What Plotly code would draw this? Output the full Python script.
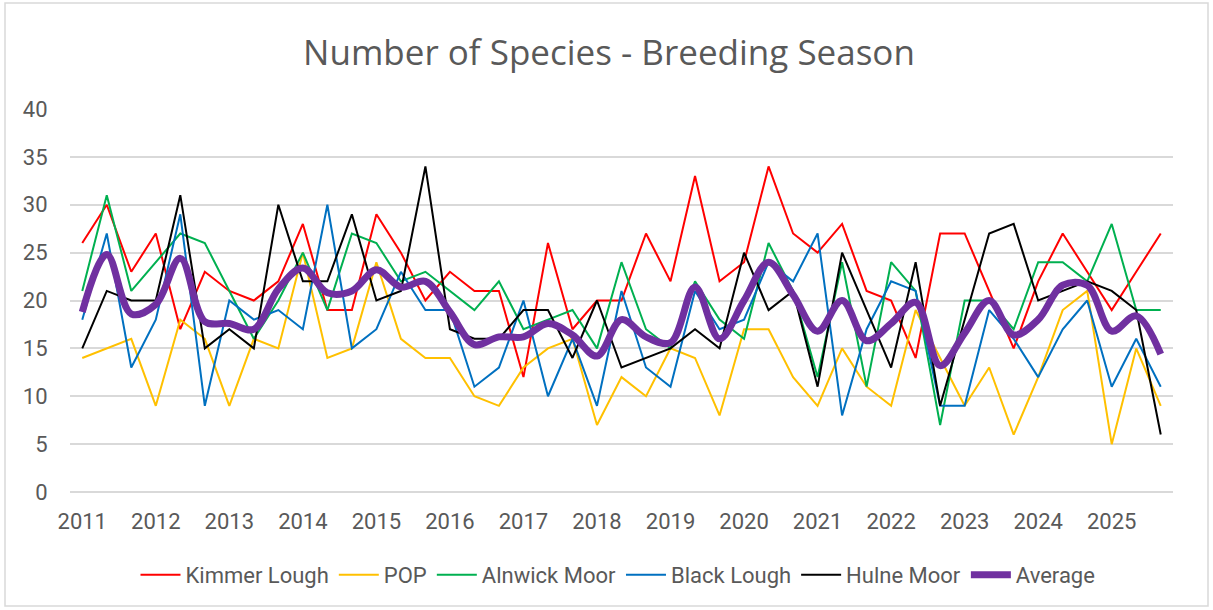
import plotly.graph_objects as go

years = ["2011", "2012", "2013", "2014", "2015", "2016", "2017", "2018",
         "2019", "2020", "2021", "2022", "2023", "2024", "2025"]
visits_per_year = 3

kimmer_lough = [26, 30, 23, 27, 17, 23, 21, 20, 22, 28, 19, 19, 29, 25, 20,
                23, 21, 21, 12, 26, 17, 20, 20, 27, 22, 33, 22, 24, 34, 27,
                25, 28, 21, 20, 14, 27, 27, 21, 15, 22, 27, 23, 19, 23, 27]
pop = [14, 15, 16, 9, 18, 16, 9, 16, 15, 25, 14, 15, 24, 16, 14,
       14, 10, 9, 13, 15, 16, 7, 12, 10, 15, 14, 8, 17, 17, 12,
       9, 15, 11, 9, 19, 14, 9, 13, 6, 12, 19, 21, 5, 15, 9]
alnwick_moor = [21, 31, 21, 24, 27, 26, 21, 16, 20, 25, 19, 27, 26, 22, 23,
                21, 19, 22, 17, 18, 19, 15, 24, 17, 15, 22, 18, 16, 26, 21,
                12, 24, 11, 24, 21, 7, 20, 20, 17, 24, 24, 22, 28, 19, 19]
black_lough = [18, 27, 13, 18, 29, 9, 20, 18, 19, 17, 30, 15, 17, 23, 19,
               19, 11, 13, 20, 10, 16, 9, 21, 13, 11, 21, 17, 18, 24, 22,
               27, 8, 17, 22, 21, 9, 9, 19, 16, 12, 17, 20, 11, 16, 11]
hulne_moor = [15, 21, 20, 20, 31, 15, 17, 15, 30, 22, 22, 29, 20, 21, 34,
              17, 16, 16, 19, 19, 14, 20, 13, 14, 15, 17, 15, 25, 19, 21,
              11, 25, 19, 13, 24, 9, 18, 27, 28, 20, 21, 22, 21, 19, 6]
average = [18.8, 24.8, 18.6, 19.6, 24.4, 17.8, 17.6, 17.0, 21.2, 23.4, 20.8, 21.0,
           23.2, 21.4, 22.0, 18.8, 15.4, 16.2, 16.2, 17.6, 16.4, 14.2, 18.0, 16.2,
           15.6, 21.4, 16.0, 20.0, 24.0, 20.6, 16.8, 20.0, 15.8, 17.6, 19.8, 13.2,
           16.6, 20.0, 16.4, 18.0, 21.6, 21.6, 16.8, 18.4, 14.4]

x = list(range(len(kimmer_lough)))
tickvals = [i * visits_per_year for i in range(len(years))]

series = [
    ("Kimmer Lough", kimmer_lough, "#FF0000", 2, "linear"),
    ("POP", pop, "#FFC000", 2, "linear"),
    ("Alnwick Moor", alnwick_moor, "#00B050", 2, "linear"),
    ("Black Lough", black_lough, "#0070C0", 2, "linear"),
    ("Hulne Moor", hulne_moor, "#000000", 2, "linear"),
    ("Average", average, "#7030A0", 7, "spline"),
]

fig = go.Figure()
for name, vals, color, w, shape in series:
    line = dict(color=color, width=w, shape=shape)
    if shape == "spline":
        line["smoothing"] = 1.0
    fig.add_trace(go.Scatter(x=x, y=vals, mode="lines", name=name, line=line))

W, H = 1213, 610
L, R, T, B = 70, 40, 109, 118
pw, ph = W - L - R, H - T - B

def px(xp):
    return (xp - L) / pw

def py(yp):
    return (H - B - yp) / ph

fig.update_layout(
    width=W, height=H,
    margin=dict(l=L, r=R, t=T, b=B),
    paper_bgcolor="white", plot_bgcolor="white",
    font=dict(family="Roboto, Open Sans, sans-serif", color="#595959"),
    title=dict(text="Number of Species - Breeding Season", x=609 / W, xanchor="center",
               xref="container", y=1 - 53 / H, yanchor="middle", yref="container",
               font=dict(size=35, color="#595959", family="Open Sans, Roboto, sans-serif")),
    xaxis=dict(range=[-0.5, len(x) - 0.5], tickvals=tickvals, ticktext=years,
               showgrid=False, zeroline=False, showline=False,
               ticks="outside", ticklen=10, tickcolor="rgba(0,0,0,0)",
               tickfont=dict(size=22, color="#595959")),
    yaxis=dict(range=[0, 40], dtick=5, showgrid=True, gridcolor="#D9D9D9", gridwidth=1.5,
               zeroline=True, zerolinecolor="#D9D9D9", zerolinewidth=1.5, showline=False,
               ticks="outside", ticklen=17, tickcolor="rgba(0,0,0,0)",
               tickfont=dict(size=22, color="#595959")),
    legend=dict(orientation="h", x=618 / W, xanchor="center", xref="container",
                y=1 - 575 / H, yanchor="middle", yref="container",
                font=dict(size=22, color="#595959", family="Liberation Sans Narrow, Roboto, sans-serif"),
                itemwidth=40, tracegroupgap=0),
    shapes=[dict(type="rect", xref="paper", yref="paper",
                 x0=px(5), x1=px(1208), y0=py(606), y1=py(3),
                 line=dict(color="#D9D9D9", width=1.5), fillcolor="rgba(0,0,0,0)",
                 layer="below")],
    showlegend=True,
)

fig.write_html("out.html", config={"displayModeBar": False},
               post_script="document.body.style.margin='0';document.body.style.padding='0';document.body.style.overflow='hidden';")
